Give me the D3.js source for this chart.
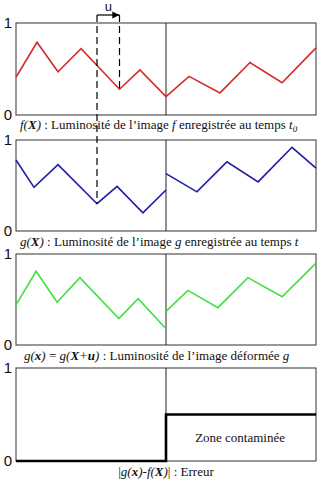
<!DOCTYPE html>
<html>
<head>
<meta charset="utf-8">
<script src="https://cdn.jsdelivr.net/npm/d3@7"></script>
<style>
  body { margin: 0; background: #fff; }
  text.serif, text.serif tspan { font-family: 'Liberation Serif', 'DejaVu Serif', serif; }
</style>
</head>
<body>
<svg id="chart" width="317" height="480"></svg>
<script>
// data (x in 0..10, divider at 5 ; y in 0..1)
var fX = [[0,0.41],[0.7,0.79],[1.4,0.47],[2.17,0.72],[3.45,0.28],[4.13,0.49],[5,0.20],
          [5.77,0.42],[6.8,0.24],[7.8,0.57],[8.87,0.35],[10,0.73]];
var gLeft = [[0,0.78],[0.6,0.48],[1.4,0.73],[2.7,0.30],[3.37,0.49],[4.23,0.20],[5,0.45]];
var gRight = [[5,0.63],[6.03,0.43],[7.03,0.76],[8.07,0.54],[9.2,0.92],[10,0.69]];
var wLeft = [[0,0.44],[0.67,0.81],[1.37,0.47],[2.13,0.74],[3.43,0.29],[4.07,0.51],[4.97,0.19]];
var wRight = [[5,0.37],[5.73,0.60],[6.73,0.41],[7.73,0.74],[8.87,0.53],[10,0.90]];
var err = [[0,0],[5,0],[5,0.5],[10,0.5]];
var uStart = 2.7, uEnd = 3.45;
var yTicks = [0, 1];

var sans = "'Liberation Sans', Arial, sans-serif";

var svg = d3.select("#chart");
var x = d3.scaleLinear().domain([0, 10]).range([16, 316]);

var panels = [
  {top: 23, bottom: 115},
  {top: 140, bottom: 231},
  {top: 254, bottom: 345},
  {top: 368, bottom: 461}
];
panels.forEach(function(p) {
  p.y = d3.scaleLinear().domain([0, 1]).range([p.bottom, p.top]);
});

var line = function(y) {
  return d3.line().x(function(d) { return x(d[0]); }).y(function(d) { return y(d[1]); });
};

// frames + divider + 0/1 labels
panels.forEach(function(p) {
  svg.append("rect")
    .attr("x", x(0)).attr("y", p.top)
    .attr("width", x(10) - x(0)).attr("height", p.bottom - p.top)
    .attr("fill", "none").attr("stroke", "#333").attr("stroke-width", 1);
  svg.append("line")
    .attr("x1", x(5)).attr("x2", x(5))
    .attr("y1", p.top).attr("y2", p.bottom)
    .attr("stroke", "#222").attr("stroke-width", 1);
  var ax = svg.append("g")
    .attr("transform", "translate(" + x(0) + ",0)")
    .call(d3.axisLeft(p.y).tickValues(yTicks).tickSize(0).tickPadding(4).tickFormat(d3.format("d")));
  ax.select(".domain").remove();
  ax.selectAll("text").attr("font-family", sans).attr("font-size", 15).attr("fill", "#111");
});

svg.append("path").datum(fX).attr("d", line(panels[0].y))
  .attr("fill", "none").attr("stroke", "#d42a2a").attr("stroke-width", 1.6);
[gLeft, gRight].forEach(function(s) {
  svg.append("path").datum(s).attr("d", line(panels[1].y))
    .attr("fill", "none").attr("stroke", "#1c1ca6").attr("stroke-width", 1.6);
});
[wLeft, wRight].forEach(function(s) {
  svg.append("path").datum(s).attr("d", line(panels[2].y))
    .attr("fill", "none").attr("stroke", "#3ee03e").attr("stroke-width", 1.6);
});
svg.append("path").datum(err).attr("d", line(panels[3].y))
  .attr("fill", "none").attr("stroke", "#000").attr("stroke-width", 2.6);

svg.append("text").attr("class", "serif")
  .attr("x", x(7.47)).attr("y", panels[3].y(0.25)).attr("dy", "0.35em")
  .attr("font-size", 13).attr("fill", "#111")
  .attr("text-anchor", "middle").text("Zone contaminée");

// displacement u
var arrowY = 15;
svg.append("defs").append("marker")
  .attr("id", "ah").attr("viewBox", "0 0 10 10").attr("refX", 10).attr("refY", 5)
  .attr("markerWidth", 6).attr("markerHeight", 6).attr("orient", "auto")
  .append("path").attr("d", "M0,0L10,5L0,10z").attr("fill", "#000");
svg.append("line")
  .attr("x1", x(uStart)).attr("x2", x(uStart))
  .attr("y1", arrowY).attr("y2", panels[1].y(0.30))
  .attr("stroke", "#000").attr("stroke-width", 1.2).attr("stroke-dasharray", "7,4");
svg.append("line")
  .attr("x1", x(uEnd)).attr("x2", x(uEnd))
  .attr("y1", arrowY).attr("y2", panels[0].y(0.28))
  .attr("stroke", "#000").attr("stroke-width", 1.2).attr("stroke-dasharray", "7,4");
svg.append("line")
  .attr("x1", x(uStart)).attr("x2", x(uEnd))
  .attr("y1", arrowY).attr("y2", arrowY)
  .attr("stroke", "#000").attr("stroke-width", 1.2).attr("marker-end", "url(#ah)");
svg.append("text")
  .attr("x", (x(uStart) + x(uEnd)) / 2).attr("y", 11)
  .attr("text-anchor", "middle")
  .attr("font-family", sans).attr("font-size", 13).attr("fill", "#111")
  .text("u");

// captions
function caption(px, py, anchor, parts) {
  var t = svg.append("text").attr("class", "serif")
    .attr("font-size", 13).attr("fill", "#111")
    .attr("x", px).attr("y", py).attr("text-anchor", anchor);
  parts.forEach(function(p) {
    var s = t.append("tspan").text(p[0]);
    if (p[1] && p[1].indexOf("i") >= 0) s.attr("font-style", "italic");
    if (p[1] && p[1].indexOf("b") >= 0) s.attr("font-weight", "bold");
    if (p[1] && p[1].indexOf("s") >= 0) s.attr("font-size", 9).attr("dy", 3);
  });
}
caption(20, 129, "start", [["f(", "i"], ["X", "ib"], [")", "i"],
  [" : Luminosité de l’image "], ["f", "i"], [" enregistrée au temps "], ["t", "i"], ["0", "is"]]);
caption(20, 246, "start", [["g(", "i"], ["X", "ib"], [")", "i"],
  [" : Luminosité de l’image "], ["g", "i"], [" enregistrée au temps "], ["t", "i"]]);
caption(24, 360, "start", [["g(", "i"], ["x", "ib"], [")", "i"], [" = "], ["g(", "i"],
  ["X", "ib"], ["+", "i"], ["u", "ib"], [")", "i"],
  [" : Luminosité de l’image déformée "], ["g", "i"]]);
caption(x(5), 476, "middle", [["|"], ["g(", "i"], ["x", "ib"], [")", "i"], ["-"], ["f(", "i"],
  ["X", "ib"], [")", "i"], ["| : Erreur"]]);
</script>
</body>
</html>
